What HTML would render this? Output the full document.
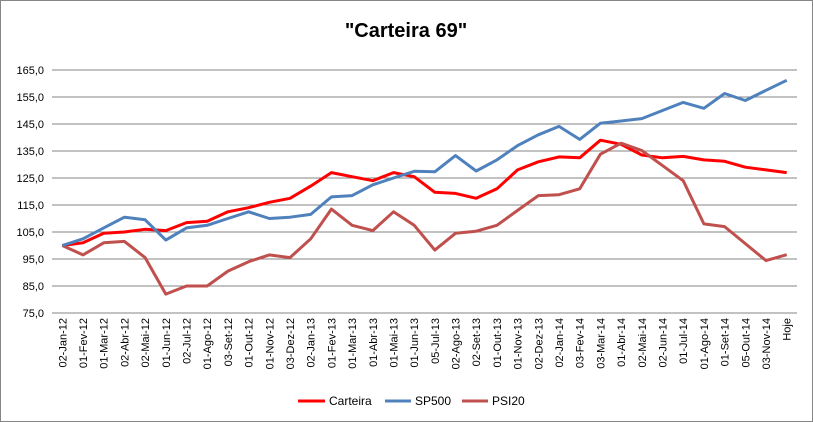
<!DOCTYPE html>
<html><head><meta charset="utf-8"><style>
body{margin:0;background:#fff;}
svg{display:block;font-family:"Liberation Sans",sans-serif;}
</style></head><body>
<svg id="chart" width="813" height="422">
<rect x="0.5" y="0.5" width="812" height="421" fill="#fff" stroke="#868686"/>
<text x="406" y="37" text-anchor="middle" font-size="20" font-weight="bold" fill="#000">"Carteira 69"</text>
<g id="grid"></g><g id="yt"></g><g id="xt"></g><g id="series"></g>
<g font-size="12">
<line x1="298" y1="401" x2="325" y2="401" stroke="#ff0000" stroke-width="3"/>
<text x="329" y="405">Carteira</text>
<line x1="385" y1="401" x2="411" y2="401" stroke="#4f81bd" stroke-width="3"/>
<text x="415" y="405">SP500</text>
<line x1="462" y1="401" x2="488" y2="401" stroke="#c0504d" stroke-width="3"/>
<text x="492" y="405">PSI20</text>
</g>
</svg>
<script>
const categories=["02-Jan-12","01-Fev-12","01-Mar-12","02-Abr-12","02-Mai-12","01-Jun-12","02-Jul-12","01-Ago-12","03-Set-12","01-Out-12","01-Nov-12","03-Dez-12","02-Jan-13","01-Fev-13","01-Mar-13","01-Abr-13","01-Mai-13","01-Jun-13","05-Jul-13","02-Ago-13","02-Set-13","01-Out-13","01-Nov-13","02-Dez-13","02-Jan-14","03-Fev-14","03-Mar-14","01-Abr-14","02-Mai-14","02-Jun-14","01-Jul-14","01-Ago-14","01-Set-14","05-Out-14","03-Nov-14","Hoje"];
const carteira=[100,101,104.5,105,106,105.5,108.5,109,112.5,114,116,117.5,122,127,125.5,124,127,125.5,119.7,119.3,117.5,121,128,131,132.8,132.5,139,137.5,133.5,132.5,133,131.7,131.2,129,128,127];
const sp500=[100,102.5,106.5,110.5,109.5,102,106.5,107.5,110,112.5,110,110.5,111.5,118,118.5,122.5,125,127.5,127.3,133.3,127.6,131.7,137,141,144.1,139.3,145.3,146.1,147,150,153,150.8,156.3,153.7,157.5,161.2];
const psi20=[100,96.5,101,101.5,95.5,82,85,85,90.5,94,96.5,95.5,102.5,113.5,107.5,105.5,112.5,107.5,98.3,104.5,105.3,107.5,113,118.5,118.8,121,133.8,137.9,135.2,129.6,124,108,107,100.7,94.4,96.6];
const yTicks=[75,85,95,105,115,125,135,145,155,165];
const NS="http://www.w3.org/2000/svg";
const X0=52,X1=797,Y0=313,Y1=70,VMIN=75,VMAX=165;
const bw=(X1-X0)/categories.length;
function xs(i){return X0+bw*(i+0.5);}
function ys(v){return Y0-(v-VMIN)/(VMAX-VMIN)*(Y0-Y1);}
function mk(t,a,p){const e=document.createElementNS(NS,t);for(const k in a)e.setAttribute(k,a[k]);p.appendChild(e);return e;}
const grid=document.getElementById('grid'),yt=document.getElementById('yt'),xt=document.getElementById('xt'),ser=document.getElementById('series');
yTicks.forEach(v=>{
 const l=mk('line',{x1:X0,x2:X1,y1:ys(v),y2:ys(v),stroke:'#868686','stroke-width':1},grid);
 
 
 const t=mk('text',{x:X0-8,y:ys(v)+4,'text-anchor':'end','font-size':11},yt);
 t.textContent=v.toFixed(1).replace('.',',');
 
 
});
categories.forEach((c,i)=>{
 const x=xs(i)+4,y=Y0+5;
 const t=mk('text',{x:x,y:y,'text-anchor':'end','font-size':11,transform:'rotate(-90 '+x+' '+y+')'},xt);
 t.textContent=c;
 
 
});
[[carteira,'#ff0000','series-carteira'],[psi20,'#c0504d','series-psi20'],[sp500,'#4f81bd','series-sp500']].forEach(([d,col,name])=>{
 const p=mk('polyline',{points:d.map((v,i)=>xs(i).toFixed(1)+','+ys(v).toFixed(1)).join(' '),fill:'none',stroke:col,'stroke-width':3,'stroke-linejoin':'round'},ser);
 
 
});
</script>
</body></html>
